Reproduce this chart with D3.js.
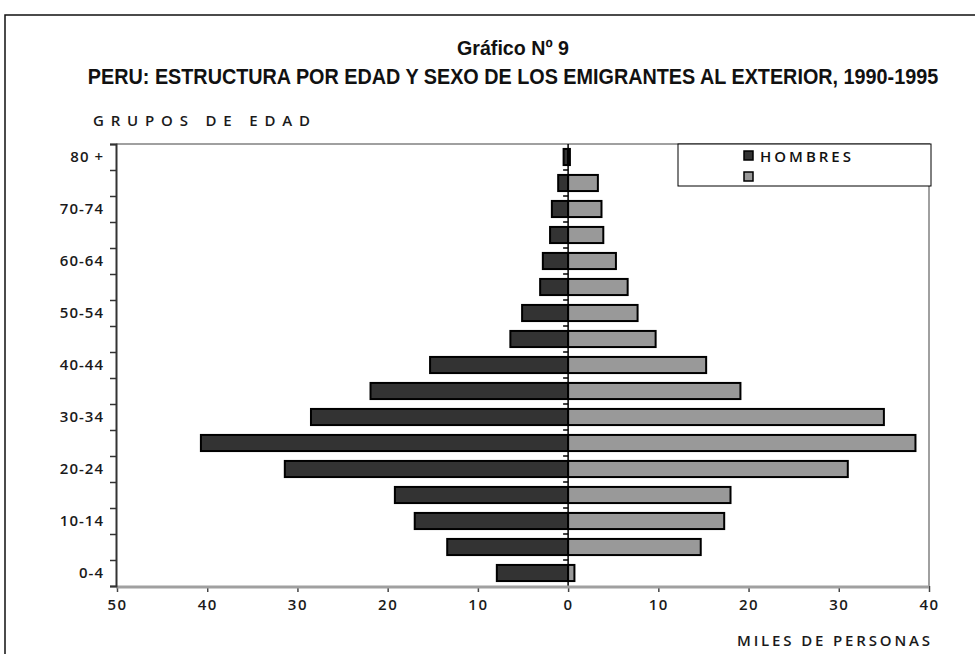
<!DOCTYPE html>
<html>
<head>
<meta charset="utf-8">
<script src="https://cdn.jsdelivr.net/npm/d3@7"></script>
<style>
  body { margin: 0; background: #fff; }
  svg { display: block; }
  .lbl { font-family: "Open Sans", "DejaVu Sans", sans-serif; font-weight: 600; fill: #1a1a1a; }
</style>
</head>
<body>
<script>
const width = 975;
const height = 654;

// age groups from youngest to oldest
const ageGroups = ["0-4", "5-9", "10-14", "15-19", "20-24", "25-29", "30-34", "35-39", "40-44",
    "45-49", "50-54", "55-59", "60-64", "65-69", "70-74", "75-79", "80 +"];
// thousands of persons
const hombres = [7.9, 13.4, 17.0, 19.2, 31.4, 40.7, 28.5, 21.9, 15.3, 6.4, 5.1, 3.1, 2.8, 2.0, 1.8, 1.1, 0.5];
const mujeres = [0.7, 14.7, 17.3, 18.0, 31.0, 38.5, 35.0, 19.1, 15.3, 9.7, 7.7, 6.6, 5.3, 3.9, 3.7, 3.3, 0.2];
const seriesNames = ["HOMBRES", ""];
const xTicks = [-50, -40, -30, -20, -10, 0, 10, 20, 30, 40];

const plot = {left: 116, right: 929, top: 144, bottom: 586};

const svg = d3.select('body').append('svg')
    .attr('width', width)
    .attr('height', height);

// outer frame
svg.append('rect')
    .attr('x', 5).attr('y', 15)
    .attr('width', width + 20).attr('height', height + 20)
    .attr('fill', 'none')
    .attr('stroke', '#111')
    .attr('stroke-width', 1.5);

// titles (condensed bold)
svg.append('text')
    .attr('x', 513).attr('y', 55)
    .attr('text-anchor', 'middle')
    .attr('font-family', '"Liberation Sans", Arial, sans-serif')
    .attr('font-weight', 'bold')
    .attr('font-size', 21)
    .attr('textLength', 112)
    .attr('lengthAdjust', 'spacingAndGlyphs')
    .attr('fill', '#111')
    .text('Gráfico Nº 9');

svg.append('text')
    .attr('transform', 'translate(513,84) scale(0.9,1)')
    .attr('text-anchor', 'middle')
    .attr('font-family', '"Liberation Sans", Arial, sans-serif')
    .attr('font-weight', 'bold')
    .attr('font-size', 22)
    .attr('fill', '#111')
    .text('PERU: ESTRUCTURA POR EDAD Y SEXO DE LOS EMIGRANTES AL EXTERIOR, 1990-1995');

svg.append('text')
    .attr('class', 'lbl')
    .attr('x', 93).attr('y', 126)
    .attr('font-size', 15)
    .attr('textLength', 217)
    .attr('lengthAdjust', 'spacing')
    .text('GRUPOS DE EDAD');

svg.append('text')
    .attr('class', 'lbl')
    .attr('x', 737).attr('y', 646)
    .attr('font-size', 15)
    .attr('textLength', 193)
    .attr('lengthAdjust', 'spacing')
    .text('MILES DE PERSONAS');

// scales
const x = d3.scaleLinear()
    .domain([-50, 40])
    .range([plot.left + 1, plot.right]);

const y = d3.scaleBand()
    .domain(ageGroups.slice().reverse())
    .range([plot.top, plot.bottom])
    .paddingInner(0.38)
    .paddingOuter(0.19);

// boundary scale for the category ticks
const yEdge = d3.scaleLinear()
    .domain([0, ageGroups.length])
    .range([plot.bottom, plot.top]);

// plot frame (grey top and right lines)
svg.append('path')
    .attr('d', `M${plot.left},${plot.top}H${plot.right}V${plot.bottom}`)
    .attr('fill', 'none')
    .attr('stroke', '#a0a0a0')
    .attr('stroke-width', 2);

// bars
const data = ageGroups.map((g, i) => ({group: g, h: hombres[i], m: mujeres[i]}));

svg.append('g')
    .selectAll('rect')
    .data(data)
    .enter().append('rect')
    .attr('x', d => x(-d.h))
    .attr('y', d => y(d.group))
    .attr('width', d => x(0) - x(-d.h))
    .attr('height', y.bandwidth())
    .attr('fill', '#333333')
    .attr('stroke', '#000')
    .attr('stroke-width', 2);

svg.append('g')
    .selectAll('rect')
    .data(data)
    .enter().append('rect')
    .attr('x', x(0))
    .attr('y', d => y(d.group))
    .attr('width', d => x(d.m) - x(0))
    .attr('height', y.bandwidth())
    .attr('fill', '#999999')
    .attr('stroke', '#000')
    .attr('stroke-width', 2);

// zero line with small ticks at group boundaries
svg.append('line')
    .attr('x1', x(0)).attr('x2', x(0))
    .attr('y1', plot.top).attr('y2', plot.bottom)
    .attr('stroke', '#000')
    .attr('stroke-width', 1.5);

svg.append('g')
    .selectAll('line')
    .data(d3.range(1, ageGroups.length))
    .enter().append('line')
    .attr('x1', x(0) - 5).attr('x2', x(0))
    .attr('y1', d => yEdge(d)).attr('y2', d => yEdge(d))
    .attr('stroke', '#000')
    .attr('stroke-width', 1.5);

// bottom axis
const xAxis = svg.append('g')
    .attr('transform', `translate(0,${plot.bottom})`)
    .call(d3.axisBottom(x).tickValues(xTicks).tickSize(6).tickFormat(d => Math.abs(d)));
xAxis.select('.domain').remove();
xAxis.selectAll('.tick line').attr('stroke', '#444').attr('stroke-width', 1.5);
xAxis.selectAll('.tick text')
    .attr('class', 'lbl')
    .attr('y', 13)
    .attr('font-size', 15)
    .attr('letter-spacing', 1.5)
    .attr('fill', '#1a1a1a');

svg.append('line')
    .attr('x1', plot.left).attr('x2', plot.right)
    .attr('y1', plot.bottom + 1).attr('y2', plot.bottom + 1)
    .attr('stroke', '#a0a0a0')
    .attr('stroke-width', 3);

// left axis
const yAxis = svg.append('g')
    .attr('transform', `translate(${plot.left},0)`)
    .call(d3.axisLeft(yEdge).tickValues(d3.range(0, ageGroups.length + 1)).tickSize(6).tickFormat(''));
yAxis.select('.domain').attr('stroke', '#333').attr('stroke-width', 2);
yAxis.selectAll('.tick line').attr('stroke', '#333').attr('stroke-width', 1.5);

svg.append('g')
    .selectAll('text')
    .data(ageGroups.filter((g, i) => i % 2 === 0))
    .enter().append('text')
    .attr('class', 'lbl')
    .attr('x', 104)
    .attr('y', d => y(d) + y.bandwidth() / 2)
    .attr('dy', '0.36em')
    .attr('text-anchor', 'end')
    .attr('font-size', 15)
    .attr('letter-spacing', 1)
    .text(d => d);

// legend
const legend = svg.append('g').attr('transform', 'translate(678,144)');
legend.append('rect')
    .attr('width', 253).attr('height', 42)
    .attr('fill', '#fff')
    .attr('stroke', '#000')
    .attr('stroke-width', 1);

const legendColors = ['#333333', '#999999'];
const items = legend.selectAll('g.item')
    .data(seriesNames)
    .enter().append('g')
    .attr('class', 'item')
    .attr('transform', (d, i) => `translate(66,${7 + i * 21})`);
items.append('rect')
    .attr('width', 9).attr('height', 9)
    .attr('fill', (d, i) => legendColors[i])
    .attr('stroke', '#000')
    .attr('stroke-width', 1.5);
items.append('text')
    .attr('x', 16).attr('y', 10.5)
    .attr('font-family', '"Open Sans", "DejaVu Sans", sans-serif')
    .attr('font-weight', 600)
    .attr('font-size', 15)
    .attr('letter-spacing', 3)
    .attr('fill', '#111')
    .text(d => d);
</script>
</body>
</html>
